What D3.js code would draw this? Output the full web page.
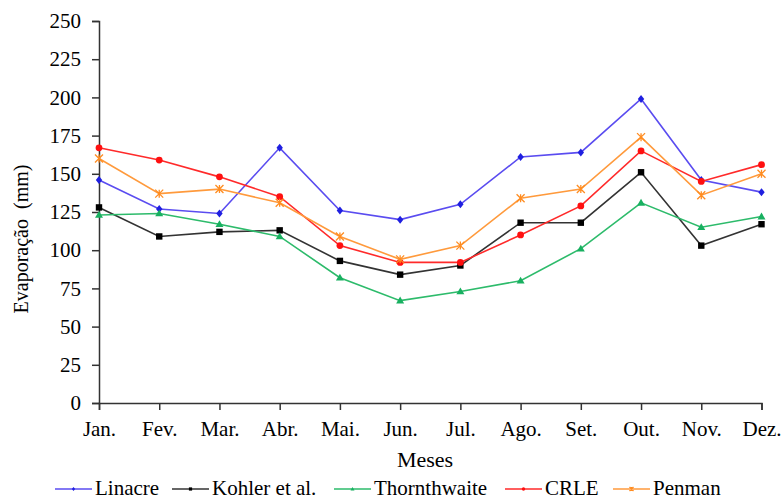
<!DOCTYPE html>
<html><head><meta charset="utf-8">
<script src="https://cdn.jsdelivr.net/npm/d3@7"></script>
<style>body{margin:0;background:#fff}svg{display:block}</style>
</head><body><svg id="c" width="781" height="499"></svg>
<script>
const months = ["Jan.","Fev.","Mar.","Abr.","Mai.","Jun.","Jul.","Ago.","Set.","Out.","Nov.","Dez."];
const yTicks = [0,25,50,75,100,125,150,175,200,225,250];
const linacre = [146,127,124,167,126,120,130,161,164,199,146,138];
const kohler = [128,109,112,113,93,84,90,118,118,151,103,117];
const thornthwaite = [123,124,117,109,82,67,73,80,101,131,115,122];
const crle = [167,159,148,135,103,92,92,110,129,165,145,156];
const penman = [160,137,140,131,109,94,103,134,140,174,136,150];
const seriesNames = ["Linacre","Kohler et al.","Thornthwaite","CRLE","Penman"];
const seriesData = [linacre,kohler,thornthwaite,crle,penman];
const lineColors = ["#5a4cf0","#333333","#2dbb6b","#ff2a2a","#ff9a3c"];
const markColors = ["#1f1fe0","#000000","#18b060","#ff1010","#ff8c20"];
const markers = ["diamond","square","triangle","circle","asterisk"];
const FONT = "Liberation Serif";

const svg = d3.select("#c");
const x = d3.scalePoint().domain(months).range([99,761.5]);
const y = d3.scaleLinear().domain([0,250]).range([403,21]);

const ya = svg.append("g").attr("transform","translate(99,0)")
  .call(d3.axisLeft(y).tickValues(yTicks).tickSize(7).tickPadding(11));
const xa = svg.append("g").attr("transform","translate(0,403)")
  .call(d3.axisBottom(x).tickSize(7).tickPadding(10));
[ya,xa].forEach(a=>{
  a.attr("font-family",FONT).attr("font-size",21);
  a.selectAll("path").attr("stroke","#333").attr("stroke-width",1.5);
  a.selectAll("line").attr("stroke","#333").attr("stroke-width",1.5);
  a.selectAll("text").attr("fill","#000");
});
xa.selectAll("text").attr("dy","0.75em");

svg.append("text").attr("x",425).attr("y",467).attr("text-anchor","middle").attr("font-family",FONT).attr("font-size",22).text("Meses");
svg.append("text").attr("transform","translate(28,239) rotate(-90)").attr("text-anchor","middle").attr("font-family",FONT).attr("font-size",20).attr("xml:space","preserve").text("Evaporação  (mm)");

function drawMarker(g, type, cx, cy, col, s){
  if(type==="diamond") g.append("path").attr("d",`M${cx},${cy-s}L${cx+s*0.8},${cy}L${cx},${cy+s}L${cx-s*0.8},${cy}Z`).attr("fill",col);
  else if(type==="square") g.append("rect").attr("x",cx-s*0.8).attr("y",cy-s*0.8).attr("width",s*1.6).attr("height",s*1.6).attr("fill",col);
  else if(type==="triangle") g.append("path").attr("d",`M${cx},${cy-s}L${cx+s},${cy+s*0.7}L${cx-s},${cy+s*0.7}Z`).attr("fill",col);
  else if(type==="circle") g.append("circle").attr("cx",cx).attr("cy",cy).attr("r",s*0.85).attr("fill",col);
  else if(type==="asterisk") g.append("path").attr("d",`M${cx-s},${cy-s}L${cx+s},${cy+s}M${cx-s},${cy+s}L${cx+s},${cy-s}M${cx},${cy-s}L${cx},${cy+s}`).attr("stroke",col).attr("stroke-width",1.3).attr("fill","none");
}

const line = d3.line().x((d,i)=>x(months[i])).y(d=>y(d));
seriesData.forEach((data,k)=>{
  const g = svg.append("g");
  g.append("path").datum(data).attr("d",line).attr("fill","none").attr("stroke",lineColors[k]).attr("stroke-width",1.6);
  data.forEach((v,i)=>drawMarker(g,markers[k],x(months[i]),y(v),markColors[k],4));
});

const legX = [55,172,334,505,613];
const legW = 37;
seriesNames.forEach((n,k)=>{
  const g = svg.append("g");
  const ly = 489;
  g.append("line").attr("x1",legX[k]).attr("x2",legX[k]+legW).attr("y1",ly).attr("y2",ly).attr("stroke",lineColors[k]).attr("stroke-width",1.5);
  drawMarker(g,markers[k],legX[k]+legW/2,ly,markColors[k],2);
  g.append("text").attr("x",legX[k]+legW+3).attr("y",495).attr("font-family",FONT).attr("font-size",21).text(n);
});
</script></body></html>
